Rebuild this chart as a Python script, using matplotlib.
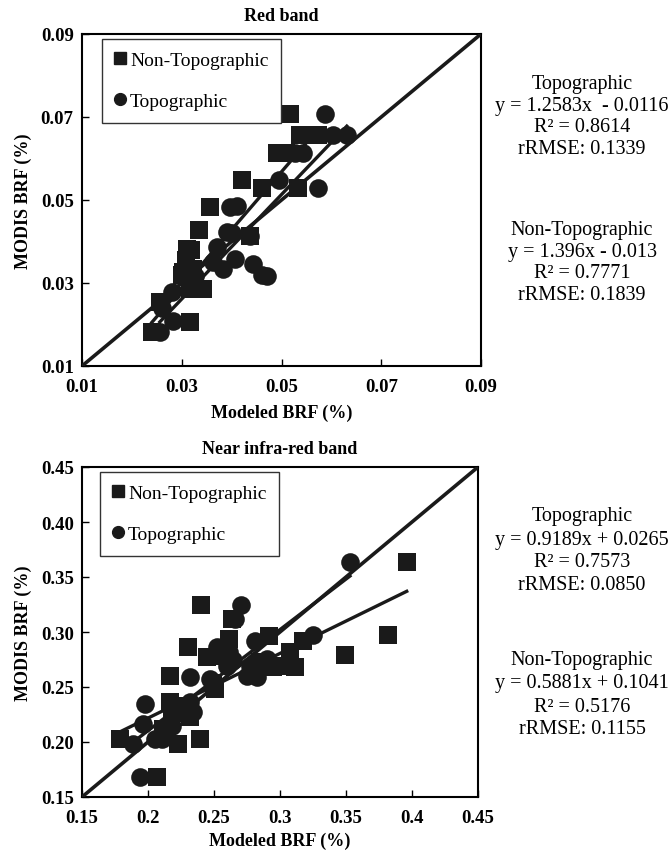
import numpy as np
import matplotlib
matplotlib.use("Agg")
import matplotlib.pyplot as plt
from matplotlib.lines import Line2D

plt.rcParams['font.family'] = ['Liberation Serif', 'DejaVu Serif']

# ---- Red band data (modeled, modis) ----
red_nontopo_x = [0.0518, 0.0537, 0.0573, 0.049, 0.051, 0.042, 0.046, 0.0534, 0.0357, 0.0335,
                 0.0437, 0.031, 0.0318, 0.0303, 0.030, 0.0343, 0.0317, 0.0317, 0.024, 0.0256,
                 0.0309, 0.0323]
red_nontopo_y = [0.0707, 0.0657, 0.0657, 0.0613, 0.0613, 0.0547, 0.0528, 0.0528, 0.0482, 0.0428,
                 0.0414, 0.0382, 0.038, 0.0326, 0.0319, 0.0286, 0.0286, 0.0207, 0.0181, 0.0254,
                 0.0355, 0.0334]
red_topo_x = [0.0587, 0.0604, 0.0631, 0.0527, 0.0544, 0.0494, 0.0574, 0.0397, 0.041, 0.039,
              0.040, 0.0437, 0.037, 0.0407, 0.0383, 0.0363, 0.0443, 0.047, 0.046, 0.028,
              0.026, 0.0283, 0.0256, 0.0327]
red_topo_y = [0.0707, 0.0657, 0.0657, 0.0613, 0.0613, 0.0547, 0.0528, 0.0482, 0.0485, 0.0422,
              0.042, 0.0414, 0.0386, 0.0358, 0.0334, 0.035, 0.0346, 0.0318, 0.032, 0.0278,
              0.024, 0.0209, 0.0181, 0.0318]

# ---- NIR band data ----
nir_nontopo_x = [0.396, 0.240, 0.264, 0.382, 0.292, 0.349, 0.2305, 0.2616, 0.3177, 0.3076,
                 0.3114, 0.300, 0.2167, 0.2495, 0.2508, 0.2445, 0.257, 0.2167, 0.2268, 0.2318,
                 0.218, 0.1788, 0.223, 0.2394, 0.2066, 0.2116, 0.2849, 0.295]
nir_nontopo_y = [0.364, 0.3245, 0.312, 0.2976, 0.2966, 0.279, 0.286, 0.2937, 0.292, 0.2815,
                 0.2679, 0.269, 0.260, 0.254, 0.248, 0.277, 0.2785, 0.236, 0.233, 0.2225,
                 0.226, 0.2027, 0.198, 0.2027, 0.168, 0.212, 0.2725, 0.268]
nir_topo_x = [0.353, 0.2705, 0.266, 0.325, 0.281, 0.252, 0.261, 0.2318, 0.2748, 0.2823,
              0.290, 0.2596, 0.1977, 0.1965, 0.1889, 0.2053, 0.2103, 0.194, 0.2343, 0.2318,
              0.247, 0.218, 0.2773, 0.2645]
nir_topo_y = [0.364, 0.3245, 0.312, 0.297, 0.292, 0.286, 0.2815, 0.259, 0.260, 0.259,
              0.2755, 0.269, 0.2345, 0.2164, 0.198, 0.2027, 0.2027, 0.168, 0.227, 0.236,
              0.2573, 0.215, 0.269, 0.275]

# regression coefficients (slope, intercept) as printed on the figure
red_topo_fit = [1.2583, -0.0116]
red_nontopo_fit = [1.396, -0.013]
nir_topo_fit = [0.9189, 0.0265]
nir_nontopo_fit = [0.5881, 0.1041]

red_ticks = [0.01, 0.03, 0.05, 0.07, 0.09]
nir_ticks = [0.15, 0.20, 0.25, 0.30, 0.35, 0.40, 0.45]
nir_ticklabels = ['0.15', '0.2', '0.25', '0.3', '0.35', '0.4', '0.45']
nir_yticklabels = ['0.15', '0.20', '0.25', '0.30', '0.35', '0.40', '0.45']

red_text_topo = ['Topographic', 'y = 1.2583x  - 0.0116', 'R\u00b2 = 0.8614', 'rRMSE: 0.1339']
red_text_nontopo = ['Non-Topographic', 'y = 1.396x - 0.013', 'R\u00b2 = 0.7771', 'rRMSE: 0.1839']
nir_text_topo = ['Topographic', 'y = 0.9189x + 0.0265', 'R\u00b2 = 0.7573', 'rRMSE: 0.0850']
nir_text_nontopo = ['Non-Topographic', 'y = 0.5881x + 0.1041', 'R\u00b2 = 0.5176', 'rRMSE: 0.1155']

fig = plt.figure(figsize=(6.68, 8.54), dpi=100)
ax1 = fig.add_axes([82/668, 1-367/854, 399/668, 332/854])
ax2 = fig.add_axes([82/668, 1-798/854, 396/668, 330/854])


def panel(ax, nx, ny, tx, ty, tfit, nfit, ticks, xlabels, ylabels, title, leg_anchor, xpad):
    lo, hi = ticks[0], ticks[-1]
    ax.plot([lo, hi], [lo, hi], color='#1a1a1a', lw=2.6, zorder=3)
    ax.scatter(nx, ny, marker='s', s=165, color='#1a1a1a', lw=0, zorder=2)
    ax.scatter(tx, ty, marker='o', s=180, color='#1a1a1a', lw=0, zorder=2)
    for fit, xs in ((tfit, tx), (nfit, nx)):
        xr = np.array([min(xs), max(xs)])
        ax.plot(xr, fit[0] * xr + fit[1], color='#1a1a1a', lw=2.4, zorder=3)
    ax.set_xlim(lo, hi)
    ax.set_ylim(lo, hi)
    ax.set_xticks(ticks)
    ax.set_yticks(ticks)
    ax.set_xticklabels(xlabels, fontsize=13.5, fontweight='bold')
    ax.set_yticklabels(ylabels, fontsize=13.5, fontweight='bold')
    ax.tick_params(direction='in', length=5, width=1, top=False, right=False)
    ax.tick_params(axis='x', pad=9)
    ax.tick_params(axis='y', pad=6)
    for sp in ax.spines.values():
        sp.set_linewidth(1.5)
    ax.set_xlabel('Modeled BRF (%)', fontsize=13, fontweight='bold', labelpad=xpad)
    ax.set_ylabel('MODIS BRF (%)', fontsize=13, fontweight='bold', labelpad=6)
    ax.set_title(title, fontsize=13, fontweight='bold', pad=10)
    handles = [Line2D([], [], marker='s', ls='', color='#1a1a1a', markersize=8.5),
               Line2D([], [], marker='o', ls='', color='#1a1a1a', markersize=8.5)]
    leg = ax.legend(handles, ['Non-Topographic', 'Topographic'], loc='upper left',
                    bbox_to_anchor=leg_anchor, fontsize=14, frameon=True, fancybox=False,
                    edgecolor='#333333', framealpha=1, handlelength=0.6, handletextpad=0.2,
                    labelspacing=1.2, borderpad=0.65, borderaxespad=0)
    leg.get_frame().set_linewidth(1.0)


panel(ax1, red_nontopo_x, red_nontopo_y, red_topo_x, red_topo_y, red_topo_fit, red_nontopo_fit,
      red_ticks, [str(t) for t in red_ticks], [str(t) for t in red_ticks], 'Red band',
      (0.05, 0.985), 6)
panel(ax2, nir_nontopo_x, nir_nontopo_y, nir_topo_x, nir_topo_y, nir_topo_fit, nir_nontopo_fit,
      nir_ticks, nir_ticklabels, nir_yticklabels, 'Near infra-red band', (0.045, 0.985), 4)

# annotation blocks on the right
blocks = [(red_text_topo, 85, 21.5), (red_text_nontopo, 231, 21.5),
          (nir_text_topo, 517, 23), (nir_text_nontopo, 661, 23)]
for lines, y0, step in blocks:
    for i, s in enumerate(lines):
        fig.text(582/668, 1 - (y0 + i*step)/854, s, ha='center', va='center', fontsize=14.5)

fig.savefig('out.png', dpi=100)
